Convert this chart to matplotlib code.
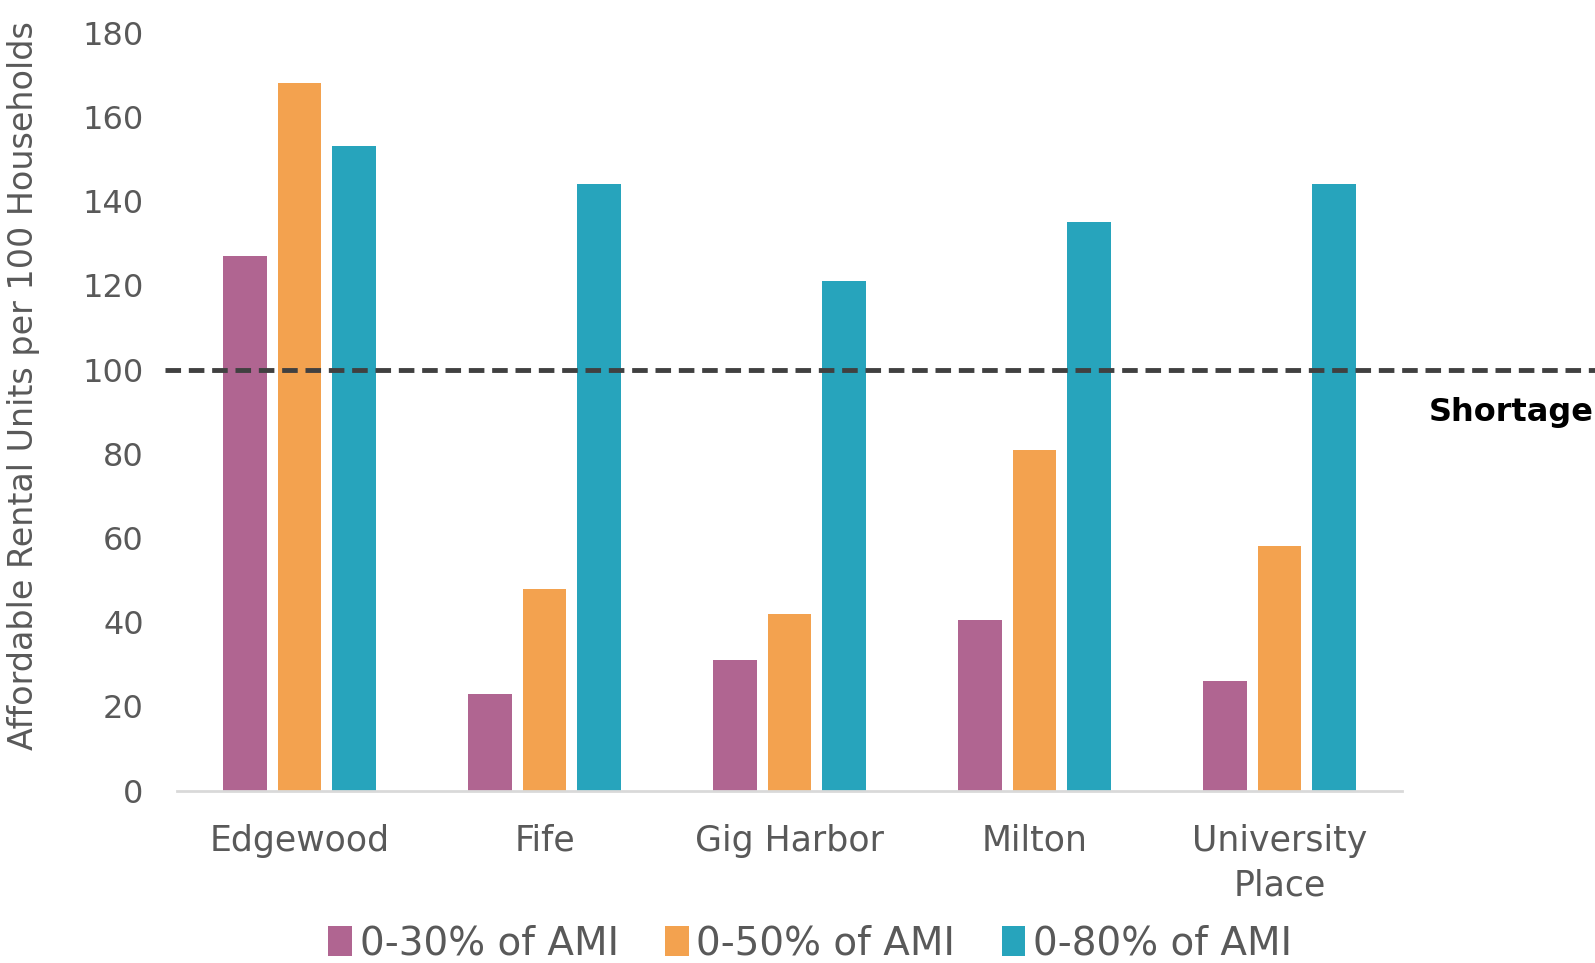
import matplotlib
matplotlib.use('Agg')
import matplotlib.pyplot as plt
import numpy as np

cities = ['Edgewood', 'Fife', 'Gig Harbor', 'Milton', 'University\nPlace']
ami_30 = [127, 23, 31, 40.5, 26]
ami_50 = [168, 48, 42, 81, 58]
ami_80 = [153, 144, 121, 135, 144]
series_names = ['0-30% of AMI', '0-50% of AMI', '0-80% of AMI']
colors = ['#B06591', '#F3A24F', '#27A4BC']
shortage_level = 100

plt.rcParams['font.family'] = ['DejaVu Sans']
text_color = '#595959'

fig = plt.figure(figsize=(15.95, 9.63), dpi=100)
ax = fig.add_axes([0.111, 0.179, 0.768, 0.787])

x = np.arange(len(cities))
width = 0.178
offset = 0.222
for i, (vals, name) in enumerate(zip([ami_30, ami_50, ami_80], series_names)):
    ax.bar(x + (i - 1) * offset, vals, width, color=colors[i], label=name, zorder=2)

# threshold line runs past the plot area to the right edge
ax.axhline(shortage_level, xmin=-0.01, xmax=1.16, color='#404040', lw=3.5,
           ls=(0, (3.2, 1.6)), clip_on=False, zorder=3)
fig.text(0.999, 0.572, 'Shortage', fontsize=23, fontweight='bold',
         color='black', ha='right', va='center')

ax.set_xlim(-0.5, len(cities) - 0.5)
ax.set_ylim(0, 180)
ax.set_yticks(range(0, 181, 20))
ax.set_xticks(x)
ax.set_xticklabels(cities, linespacing=1.4)
ax.tick_params(axis='both', length=0, colors=text_color)
ax.tick_params(axis='x', pad=24, labelsize=25)
ax.tick_params(axis='y', pad=24, labelsize=23)
for s in ['top', 'right', 'left']:
    ax.spines[s].set_visible(False)
ax.spines['bottom'].set_color('#D9D9D9')
ax.spines['bottom'].set_linewidth(2)

ax.set_ylabel('Affordable Rental Units per 100 Households', fontsize=24,
              color=text_color)
ax.yaxis.set_label_coords(-0.112, 0.535)

ax.legend(loc='center', bbox_to_anchor=(0.517, -0.202), ncol=3, frameon=False,
          fontsize=28, labelcolor=text_color, handlelength=0.6, handleheight=0.8,
          handletextpad=0.2, columnspacing=1.2)

fig.savefig('out.png', dpi=100)
